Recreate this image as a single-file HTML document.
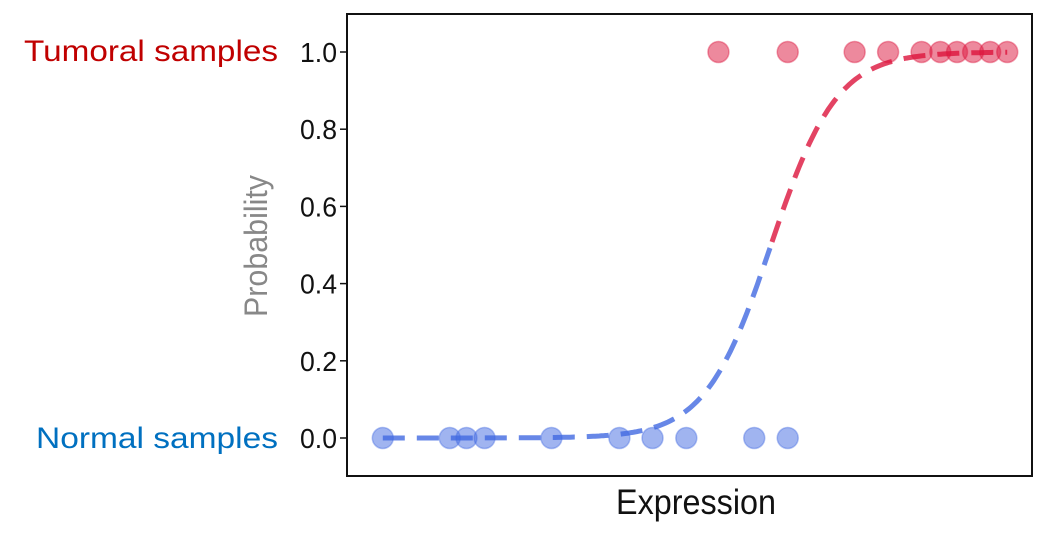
<!DOCTYPE html>
<html><head><meta charset="utf-8"><style>
body{margin:0;background:#fff;}
svg{display:block;font-family:"Liberation Sans",Arial,sans-serif;}
</style></head><body>
<svg id="chart" width="1058" height="536" viewBox="0 0 1058 536">
<text x="278" y="61" text-anchor="end" font-size="30" fill="#c00000" textLength="254" lengthAdjust="spacingAndGlyphs">Tumoral samples</text>
<text x="278" y="448" text-anchor="end" font-size="30" fill="#0070c0" textLength="242" lengthAdjust="spacingAndGlyphs">Normal samples</text>
<text transform="translate(267,246) rotate(-90)" text-anchor="middle" font-size="32" fill="#888" textLength="142" lengthAdjust="spacingAndGlyphs">Probability</text>
<text x="696" y="514" text-anchor="middle" font-size="35" fill="#111" textLength="160" lengthAdjust="spacingAndGlyphs">Expression</text>
<g id="marks"></g>
<rect x="347" y="14" width="685" height="462" fill="none" stroke="#111" stroke-width="2"/>
</svg>
<script>
const yTicks = [0, 0.2, 0.4, 0.6, 0.8, 1.0];
const yTickLabels = ["0.0", "0.2", "0.4", "0.6", "0.8", "1.0"];
const normalX = [0, 2, 2.5, 3.04, 5.04, 7.07, 8.06, 9.07, 11.1, 12.1];
const normalY = [0, 0, 0, 0, 0, 0, 0, 0, 0, 0];
const tumoralX = [10.03, 12.1, 14.1, 15.1, 16.1, 16.66, 17.16, 17.64, 18.15, 18.66];
const tumoralY = [1, 1, 1, 1, 1, 1, 1, 1, 1, 1];
const fitMid = [11.6];
const fitSlope = [1.02];

const NS = "http://www.w3.org/2000/svg";
const g = document.getElementById("marks");
const xMin = -1.07, xMax = 19.4;
const px0 = 347, px1 = 1032;
const xs = v => px0 + (v - xMin) / (xMax - xMin) * (px1 - px0);
const ys = v => 438 - v * 386;
function el(t, a){const e=document.createElementNS(NS,t);for(const k in a)e.setAttribute(k,a[k]);g.appendChild(e);return e;}

yTicks.forEach((t,i)=>{
  const l = el("line",{x1:340,x2:347,y1:ys(t),y2:ys(t),stroke:"#111","stroke-width":1.5});
  
  
  const tx = el("text",{x:337,y:ys(t)+10,"text-anchor":"end","font-size":28,fill:"#111",textLength:37,lengthAdjust:"spacingAndGlyphs"});
  tx.textContent = yTickLabels[i];
  
  
});

normalX.forEach((x,i)=>{
  const c = el("circle",{cx:xs(x),cy:ys(normalY[i]),r:10.5,fill:"#4169e1","fill-opacity":0.5,stroke:"#4169e1","stroke-opacity":0.4,"stroke-width":1.5});
  
  
});
tumoralX.forEach((x,i)=>{
  const c = el("circle",{cx:xs(x),cy:ys(tumoralY[i]),r:10.5,fill:"#dc143c","fill-opacity":0.5,stroke:"#dc143c","stroke-opacity":0.4,"stroke-width":1.5});
  
  
});

const sig = x => 1/(1+Math.exp(-fitSlope[0]*(x-fitMid[0])));
const lo = Math.min(...normalX), hi = Math.max(...tumoralX);
let dB = "", dR = "";
const N = 300;
for(let i=0;i<=N;i++){
  const x = lo + (hi-lo)*i/N, p = sig(x);
  const pt = xs(x).toFixed(1)+","+ys(p).toFixed(1);
  if(p<=0.5) dB += (dB?"L":"M")+pt;
  if(p>=0.5) dR += (dR?"L":"M")+pt;
}
const pb = el("path",{d:dB,fill:"none",stroke:"#4169e1","stroke-opacity":0.8,"stroke-width":5,"stroke-dasharray":"22 12"});


const pr = el("path",{d:dR,fill:"none",stroke:"#dc143c","stroke-opacity":0.8,"stroke-width":5,"stroke-dasharray":"22 12"});


</script>
</body></html>
